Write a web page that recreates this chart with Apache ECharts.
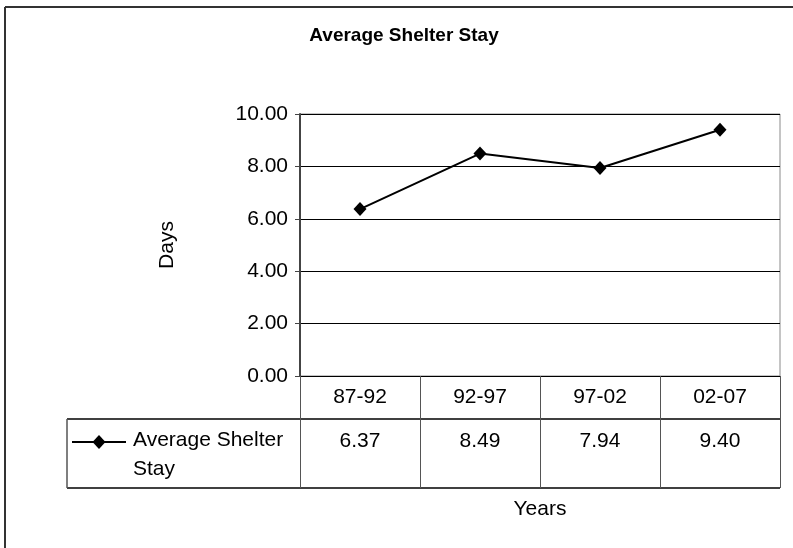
<!DOCTYPE html>
<html>
<head>
<meta charset="utf-8">
<script src="https://cdn.jsdelivr.net/npm/echarts@6/dist/echarts.min.js"></script>
<style>
html,body{margin:0;padding:0;background:#fff;}
#chart{width:793px;height:548px;}
</style>
</head>
<body>
<div id="chart"></div>
<script>
const titleText = 'Average Shelter Stay';
const seriesName = 'Average Shelter Stay';
const categories = ['87-92', '92-97', '97-02', '02-07'];
const values = [6.37, 8.49, 7.94, 9.40];
const yMin = 0, yMax = 10, yInterval = 2;
const yAxisTitle = 'Days';
const xAxisTitle = 'Years';

const FONT = '"Liberation Sans", Arial, sans-serif';
const FS = 21;
const G = { left: 300, right: 13, top: 114, bottom: 172 };
const W = 793, H = 548;
const gx0 = G.left, gx1 = W - G.right, gy1 = H - G.bottom;
const rowSplit = gy1 + 43, rowEnd = gy1 + 112, tableLeft = 67;

const chart = echarts.init(document.getElementById('chart'), null, { renderer: 'canvas' });
chart.setOption({
  animation: false,
  backgroundColor: '#fff',
  title: {
    text: titleText, left: 404, top: 26, textAlign: 'center', padding: 0,
    textStyle: { fontFamily: FONT, fontSize: 19, fontWeight: 'bold', color: '#000' }
  },
  grid: { left: G.left, right: G.right, top: G.top, bottom: G.bottom, show: true, borderColor: '#8a8a8a', borderWidth: 1 },
  xAxis: [{
    type: 'category', data: categories, position: 'bottom', boundaryGap: true,
    axisLine: { lineStyle: { color: '#000', width: 1 } },
    axisTick: { show: true, length: rowEnd - gy1, lineStyle: { color: '#555' } },
    axisLabel: { margin: 21, verticalAlign: 'middle', fontFamily: FONT, fontSize: FS, color: '#000' },
    name: xAxisTitle, nameLocation: 'middle', nameGap: 133,
    nameTextStyle: { fontFamily: FONT, fontSize: FS, color: '#000', verticalAlign: 'middle' }
  }, {
    type: 'category', data: categories, position: 'bottom', offset: 44, boundaryGap: true,
    axisLine: { show: false }, axisTick: { show: false },
    axisLabel: {
      margin: 21, verticalAlign: 'middle', fontFamily: FONT, fontSize: FS, color: '#000',
      formatter: (v, i) => values[i].toFixed(2)
    }
  }],
  yAxis: {
    type: 'value', min: yMin, max: yMax, interval: yInterval,
    axisLine: { show: true, lineStyle: { color: '#444', width: 2 } },
    axisTick: { show: true, length: 5, lineStyle: { color: '#444' } },
    splitLine: { lineStyle: { color: '#000', width: 1 } },
    axisLabel: { margin: 12, fontFamily: FONT, fontSize: FS, color: '#000', formatter: v => v.toFixed(2) },
    name: yAxisTitle, nameLocation: 'middle', nameRotate: 90, nameGap: 122,
    nameTextStyle: { fontFamily: FONT, fontSize: FS, color: '#000' }
  },
  series: [{
    name: seriesName, type: 'line', data: values, xAxisIndex: 0,
    symbol: 'diamond', symbolSize: [13, 14],
    lineStyle: { color: '#000', width: 2 },
    itemStyle: { color: '#000' }
  }],
  graphic: [
    { type: 'line', shape: { x1: 5, y1: 7, x2: W, y2: 7 }, style: { stroke: '#333', lineWidth: 2 } },
    { type: 'line', shape: { x1: 5, y1: 7, x2: 5, y2: H }, style: { stroke: '#333', lineWidth: 2 } },
    { type: 'line', shape: { x1: tableLeft, y1: rowSplit, x2: gx1, y2: rowSplit }, style: { stroke: '#000', lineWidth: 1.5 } },
    { type: 'line', shape: { x1: tableLeft, y1: rowEnd, x2: gx1, y2: rowEnd }, style: { stroke: '#000', lineWidth: 1.5 } },
    { type: 'line', shape: { x1: tableLeft, y1: rowSplit, x2: tableLeft, y2: rowEnd }, style: { stroke: '#555', lineWidth: 1.5 } },
    { type: 'line', shape: { x1: 72, y1: 442, x2: 126, y2: 442 }, style: { stroke: '#000', lineWidth: 2 } },
    { type: 'polygon', shape: { points: [[99, 435], [105.5, 442], [99, 449], [92.5, 442]] }, style: { fill: '#000' } },
    { type: 'text', x: 133, y: 426, style: { text: 'Average Shelter\nStay', font: FS + 'px ' + FONT, fill: '#000', lineHeight: 29 } }
  ]
});
</script>
</body>
</html>
